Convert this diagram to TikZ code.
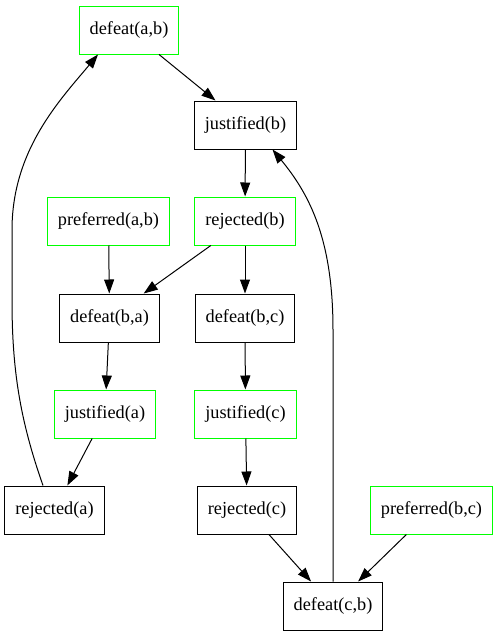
\documentclass[tikz,border=0pt]{standalone}
\usepackage{fontspec}
\setmainfont{Liberation Serif}
\usepackage{tikz}
\usetikzlibrary{arrows.meta,positioning}
\usepackage{xcolor}
\definecolor{argreen}{RGB}{0,255,0}

\begin{document}
\begin{tikzpicture}[
  x=1pt, y=-1pt,
  font=\fontsize{18.3}{22}\selectfont,
  box/.style={draw,line width=1pt,align=center,minimum width=72pt,minimum height=48pt,inner xsep=10.5pt},
  gbox/.style={box,draw=argreen},
  arr/.style={-{Triangle[length=14pt,width=10pt]},line width=1pt}
]
\useasboundingbox (0,0) rectangle (499,635);
\node[gbox] (dab) at (129,30) {defeat(a,b)};
\node[box] (jb) at (245.5,125) {justified(b)};
\node[gbox] (pab) at (108.5,221) {preferred(a,b)};
\node[gbox] (rb) at (245,221) {rejected(b)};
\node[box] (dba) at (109.5,318) {defeat(b,a)};
\node[box] (dbc) at (245,318) {defeat(b,c)};
\node[gbox] (ja) at (105,414) {justified(a)};
\node[gbox] (jc) at (245.5,414) {justified(c)};
\node[box] (rja) at (54.5,510) {rejected(a)};
\node[box] (rjc) at (247,510) {rejected(c)};
\node[gbox] (pbc) at (431.5,510) {preferred(b,c)};
\node[box] (dcb) at (333,606) {defeat(c,b)};
\draw[arr] (dab)--(jb);
\draw[arr] (jb)--(rb);
\draw[arr] (pab)--(dba);
\draw[arr] (rb)--(dba);
\draw[arr] (rb)--(dbc);
\draw[arr] (dba)--(ja);
\draw[arr] (dbc)--(jc);
\draw[arr] (ja)--(rja);
\draw[arr] (jc)--(rjc);
\draw[arr] (rjc)--(dcb);
\draw[arr] (pbc)--(dcb);
\draw[arr] ([xshift=-11.5pt]rja.north) .. controls (20,420) and (12,370) .. (12,300)
  -- (12,230) .. controls (12,150) and (60,100) .. ([xshift=-31pt]dab.south);
\draw[arr] (dcb.north) -- (333,330) .. controls (333,240) and (310,195) .. ([xshift=27pt]jb.south);
\end{tikzpicture}
\end{document}
